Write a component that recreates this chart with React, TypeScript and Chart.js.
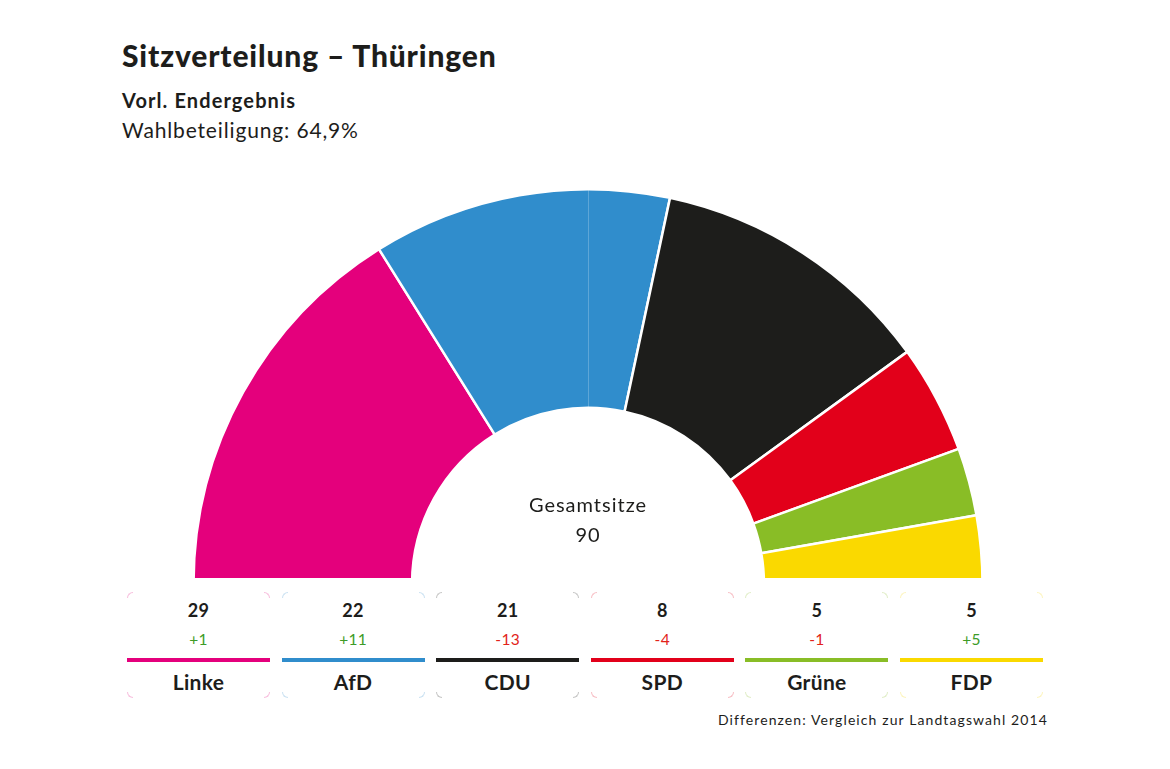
import React, { useEffect, useRef } from "react";
import { Chart, registerables } from "chart.js";

Chart.register(...registerables);

const parties = ["Linke", "AfD", "CDU", "SPD", "Grüne", "FDP"];
const seats = [29, 22, 21, 8, 5, 5];
const diffs = ["+1", "+11", "-13", "-4", "-1", "+5"];
const colors = ["#E4007C", "#308DCC", "#1D1D1B", "#E2001A", "#89BD26", "#FAD900"];
const totalSeats = 90;

const FONT = "Lato, 'Open Sans', sans-serif";

const majorityLine = {
  id: "majorityLine",
  afterDatasetsDraw(chart: any) {
    const meta = chart.getDatasetMeta(0);
    const arc = meta.data[0];
    if (!arc) return;
    const { x, y, innerRadius, outerRadius } = arc.getProps(["x", "y", "innerRadius", "outerRadius"], true);
    const ctx = chart.ctx;
    ctx.save();
    ctx.strokeStyle = "rgba(255,255,255,0.22)";
    ctx.lineWidth = 1;
    ctx.beginPath();
    ctx.moveTo(Math.round(x) + 0.5, y - innerRadius);
    ctx.lineTo(Math.round(x) + 0.5, y - outerRadius);
    ctx.stroke();
    ctx.restore();
  },
};

function Corner({ color, pos }: { color: string; pos: string }) {
  const s: React.CSSProperties = {
    position: "absolute",
    width: 6,
    height: 6,
    opacity: 0.25,
    boxSizing: "border-box",
  };
  const b = `1px solid ${color}`;
  if (pos === "tl") Object.assign(s, { left: 0, top: 0, borderTop: b, borderLeft: b, borderTopLeftRadius: 6 });
  if (pos === "tr") Object.assign(s, { right: 0, top: 0, borderTop: b, borderRight: b, borderTopRightRadius: 6 });
  if (pos === "bl") Object.assign(s, { left: 0, bottom: 0, borderBottom: b, borderLeft: b, borderBottomLeftRadius: 6 });
  if (pos === "br") Object.assign(s, { right: 0, bottom: 0, borderBottom: b, borderRight: b, borderBottomRightRadius: 6 });
  return <div style={s} />;
}

export default function App() {
  const canvasRef = useRef<HTMLCanvasElement | null>(null);

  useEffect(() => {
    if (!canvasRef.current) return;
    const chart = new Chart(canvasRef.current, {
      type: "doughnut",
      data: {
        labels: parties,
        datasets: [
          {
            data: seats,
            backgroundColor: colors,
            borderColor: "#ffffff",
            borderWidth: 2.5,
            hoverOffset: 0,
          },
        ],
      },
      options: {
        responsive: false,
        animation: false,
        rotation: -90,
        circumference: 180,
        cutout: "44.6%",
        layout: { padding: 0 },
        plugins: { legend: { display: false }, tooltip: { enabled: false } },
        events: [],
      },
      plugins: [majorityLine],
    });
    return () => chart.destroy();
  }, []);

  const cardW = 143;
  const step = 154.6;

  return (
    <div
      style={{
        position: "fixed",
        left: 0,
        top: 0,
        width: 1170,
        height: 769,
        background: "#fff",
        fontFamily: FONT,
        color: "#1d1d1b",
        overflow: "hidden",
      }}
    >
      <div style={{ position: "absolute", left: 122, top: 37, fontSize: 30, fontWeight: 900, letterSpacing: 0.85, whiteSpace: "nowrap", lineHeight: "36px" }}>
        Sitzverteilung – Thüringen
      </div>
      <div style={{ position: "absolute", left: 122, top: 87, fontSize: 20, fontWeight: 700, letterSpacing: 1.1, whiteSpace: "nowrap", lineHeight: "26px" }}>
        Vorl. Endergebnis
      </div>
      <div style={{ position: "absolute", left: 122, top: 116, fontSize: 21, fontWeight: 400, letterSpacing: 0.85, whiteSpace: "nowrap", lineHeight: "28px" }}>
        Wahlbeteiligung: 64,9%
      </div>

      <div style={{ position: "absolute", left: 191, top: 188, width: 794, height: 390, overflow: "hidden" }}>
        <canvas ref={canvasRef} width={794} height={397} style={{ display: "block", width: 794, height: 397 }} />
      </div>

      <div style={{ position: "absolute", left: 488, width: 200, top: 491, textAlign: "center", fontSize: 20, letterSpacing: 1, lineHeight: "26px" }}>
        Gesamtsitze
      </div>
      <div style={{ position: "absolute", left: 488, width: 200, top: 521, textAlign: "center", fontSize: 20, letterSpacing: 1, lineHeight: "26px" }}>
        {totalSeats}
      </div>

      {parties.map((p, i) => {
        const left = 127 + i * step;
        const neg = diffs[i].startsWith("-");
        return (
          <div key={p} style={{ position: "absolute", left, top: 592, width: cardW, height: 106 }}>
            <Corner color={colors[i]} pos="tl" />
            <Corner color={colors[i]} pos="tr" />
            <Corner color={colors[i]} pos="bl" />
            <Corner color={colors[i]} pos="br" />
            <div style={{ position: "absolute", left: 0, width: cardW, top: 7, textAlign: "center", fontSize: 18, fontWeight: 700, lineHeight: "22px", letterSpacing: 0.3 }}>
              {seats[i]}
            </div>
            <div style={{ position: "absolute", left: 0, width: cardW, top: 37, textAlign: "center", fontSize: 15.5, fontWeight: 400, lineHeight: "20px", letterSpacing: 0.3, color: neg ? "#E2231A" : "#3D9B27" }}>
              {diffs[i]}
            </div>
            <div style={{ position: "absolute", left: 0, width: cardW, top: 66, height: 4, background: colors[i] }} />
            <div style={{ position: "absolute", left: 0, width: cardW, top: 77, textAlign: "center", fontSize: 21, fontWeight: 700, lineHeight: "26px", letterSpacing: 0.3 }}>
              {p}
            </div>
          </div>
        );
      })}

      <div style={{ position: "absolute", right: 1170 - 1048, top: 710, fontSize: 14, whiteSpace: "nowrap", letterSpacing: 1.1, lineHeight: "20px" }}>
        Differenzen: Vergleich zur Landtagswahl 2014
      </div>
    </div>
  );
}
